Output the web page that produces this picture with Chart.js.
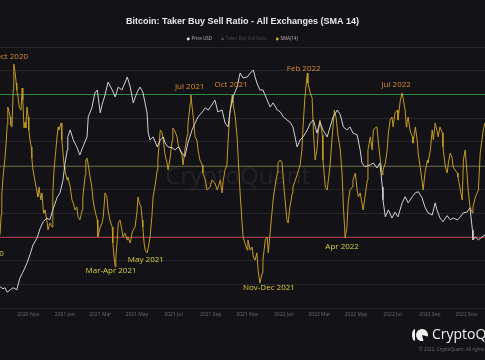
<!DOCTYPE html>
<html>
<head>
<meta charset="utf-8">
<title>Bitcoin: Taker Buy Sell Ratio - All Exchanges (SMA 14)</title>
<script src="https://cdn.jsdelivr.net/npm/chart.js@4.4.0/dist/chart.umd.min.js"></script>
<style>
  html, body { margin: 0; padding: 0; background: #131317; }
  #wrap { position: relative; width: 485px; height: 360px; }
</style>
</head>
<body>
<div id="wrap"><canvas id="ratio-chart"></canvas></div>
<script>
// x values are day offsets from 2020-09-15 (left edge of the visible window)
const monthDays = [47, 108, 167, 228, 289, 351, 412, 473, 532, 593, 654, 716, 777];
const monthLabels = ['2020 Nov', '2021 Jan', '2021 Mar', '2021 May', '2021 Jul', '2021 Sep', '2021 Nov',
                     '2022 Jan', '2022 Mar', '2022 May', '2022 Jul', '2022 Sep', '2022 Nov'];

// BTC price (USD), log scale
const priceDay = [
  0, 5, 8, 12, 17, 22, 28, 33, 38, 45,
  50, 55, 62, 67, 72, 78, 83, 88, 95, 100,
  105, 108, 112, 113, 117, 122, 128, 133, 138, 145,
  147, 153, 158, 162, 167, 170, 175, 180, 187, 192,
  197, 203, 208, 212, 217, 222, 228, 233, 238, 245,
  247, 250, 255, 262, 267, 272, 275, 280, 287, 292,
  297, 303, 308, 313, 320, 325, 330, 337, 342, 347,
  353, 358, 363, 370, 375, 380, 383, 388, 395, 400,
  405, 412, 417, 422, 425, 428, 433, 438, 445, 450,
  455, 462, 467, 472, 478, 483, 488, 495, 500, 505,
  512, 517, 522, 528, 533, 538, 545, 550, 555, 562,
  567, 572, 578, 583, 588, 595, 600, 603, 608, 617,
  622, 628, 633, 637, 638, 642, 647, 653, 658, 663,
  670, 675, 680, 687, 692, 697, 703, 708, 713, 720,
  725, 728, 733, 738, 745, 750, 755, 762, 767, 772,
  778, 783, 787, 788, 792, 797, 803, 808
];
const priceUsd = [
  10700, 10500, 10600, 10200, 10400, 10600, 10400, 11500, 12100, 13100,
  14100, 15300, 16300, 17700, 18700, 19300, 19000, 20700, 23000, 24000,
  26800, 30500, 34700, 38800, 41200, 37800, 35600, 33200, 35600, 38800,
  46100, 49800, 56600, 58100, 47700, 51100, 55700, 62200, 58100, 54700,
  59600, 58100, 61700, 65000, 59600, 52000, 56600, 59600, 57100, 47700,
  40100, 37800, 38800, 35600, 37800, 38800, 36800, 35600, 35300, 34700,
  35600, 33800, 32700, 36800, 41200, 43700, 46100, 48100, 49800, 48900,
  51100, 53300, 48100, 48900, 43700, 42300, 48100, 54700, 59600, 67200,
  64400, 65000, 67200, 69000, 65000, 61700, 58100, 58100, 53300, 50200,
  52000, 48900, 48100, 46100, 44900, 44100, 42300, 35600, 37800, 38800,
  41200, 43700, 44900, 40100, 44100, 41200, 38800, 42300, 46100, 48900,
  46900, 42300, 41200, 42300, 40100, 39500, 34700, 31000, 30000, 30500,
  31000, 29700, 31000, 25200, 22600, 19500, 20700, 19300, 20300, 19500,
  22000, 23200, 22000, 23200, 24000, 24200, 23000, 21200, 20200, 19800,
  22000, 20700, 19300, 18700, 19700, 19000, 19300, 19000, 19500, 20200,
  20300, 21100, 17400, 16000, 16400, 16000, 16400, 16700
];

// Taker buy/sell ratio, SMA(14)
const smaDay = [
  0, 2, 3, 5, 8, 10, 12, 13, 17, 18,
  20, 22, 23, 25, 27, 28, 30, 32, 35, 37,
  38, 40, 42, 43, 45, 47, 48, 50, 52, 53,
  55, 58, 62, 63, 65, 68, 70, 72, 73, 75,
  78, 80, 83, 87, 88, 90, 92, 95, 97, 98,
  102, 103, 105, 107, 108, 112, 113, 117, 120, 122,
  125, 128, 130, 133, 137, 138, 142, 143, 145, 147,
  150, 153, 155, 158, 162, 163, 167, 170, 172, 175,
  178, 180, 183, 187, 188, 190, 192, 193, 195, 197,
  200, 203, 205, 208, 212, 213, 217, 220, 222, 225,
  228, 230, 232, 235, 237, 238, 240, 242, 245, 247,
  250, 253, 255, 258, 262, 263, 267, 270, 272, 275,
  278, 280, 283, 287, 288, 292, 295, 297, 300, 303,
  305, 308, 312, 313, 317, 318, 320, 322, 325, 328,
  330, 333, 337, 338, 342, 345, 350, 353, 358, 362,
  367, 370, 372, 375, 378, 380, 383, 387, 388, 392,
  395, 397, 400, 403, 405, 408, 412, 413, 417, 420,
  422, 425, 428, 430, 433, 437, 438, 442, 445, 447,
  450, 453, 455, 458, 462, 463, 467, 470, 472, 475,
  478, 480, 483, 487, 488, 492, 495, 500, 503, 505,
  508, 512, 513, 517, 520, 522, 525, 528, 530, 533,
  537, 538, 542, 545, 547, 550, 553, 557, 560, 563,
  567, 570, 572, 575, 578, 580, 583, 587, 588, 592,
  595, 597, 600, 603, 605, 608, 612, 613, 617, 620,
  622, 625, 628, 630, 633, 637, 638, 642, 645, 647,
  650, 653, 655, 658, 662, 663, 667, 670, 672, 675,
  677, 678, 680, 683, 687, 688, 692, 695, 697, 700,
  703, 705, 708, 712, 713, 717, 720, 722, 725, 728,
  730, 733, 737, 738, 742, 745, 747, 750, 753, 755,
  758, 762, 763, 767, 770, 772, 775, 778, 780, 783,
  787, 788, 792, 795, 797, 800, 803, 805, 808
];
const smaRatio = [
  0.9708, 0.9792, 0.9876, 0.9952, 1.0024, 1.0087, 1.0171, 1.0247, 1.0205, 1.0171,
  1.0163, 1.0319, 1.0428, 1.0395, 1.0348, 1.0319, 1.0289, 1.0247, 1.0234, 1.0327,
  1.0277, 1.0159, 1.0184, 1.0159, 1.0247, 1.0205, 1.0150, 1.0108, 1.0079, 1.0032,
  0.9982, 0.9939, 0.9885, 0.9868, 0.9910, 0.9855, 0.9885, 0.9813, 0.9800, 0.9813,
  0.9771, 0.9729, 0.9758, 0.9741, 0.9885, 0.9982, 1.0036, 1.0121, 1.0163, 1.0150,
  1.0180, 1.0108, 1.0053, 0.9994, 0.9982, 0.9939, 0.9952, 0.9910, 0.9855, 0.9843,
  0.9813, 0.9826, 0.9784, 0.9771, 0.9813, 0.9868, 0.9961, 1.0024, 1.0032, 1.0003,
  0.9952, 0.9910, 0.9855, 0.9813, 0.9771, 0.9699, 0.9741, 0.9758, 0.9784, 0.9885,
  0.9868, 0.9813, 0.9771, 0.9741, 0.9674, 0.9615, 0.9573, 0.9615, 0.9674, 0.9758,
  0.9771, 0.9729, 0.9699, 0.9716, 0.9687, 0.9699, 0.9674, 0.9716, 0.9729, 0.9741,
  0.9800, 0.9868, 0.9843, 0.9826, 0.9771, 0.9741, 0.9674, 0.9644, 0.9632, 0.9653,
  0.9699, 0.9784, 0.9868, 0.9910, 0.9982, 1.0024, 1.0150, 1.0138, 1.0108, 1.0045,
  1.0015, 0.9982, 1.0024, 1.0108, 1.0159, 1.0142, 1.0121, 1.0087, 1.0066, 1.0045,
  1.0003, 1.0066, 1.0129, 1.0171, 1.0264, 1.0298, 1.0247, 1.0205, 1.0121, 1.0108,
  1.0066, 1.0024, 1.0003, 0.9969, 0.9939, 0.9897, 0.9910, 0.9939, 0.9927, 0.9897,
  0.9939, 0.9885, 0.9939, 0.9982, 1.0003, 1.0108, 1.0222, 1.0298, 1.0264, 1.0205,
  1.0121, 1.0024, 0.9885, 0.9771, 0.9699, 0.9674, 0.9644, 0.9687, 0.9644, 0.9657,
  0.9615, 0.9602, 0.9632, 0.9560, 0.9505, 0.9548, 0.9602, 0.9687, 0.9699, 0.9632,
  0.9716, 0.9800, 0.9855, 0.9910, 0.9969, 1.0011, 1.0024, 1.0011, 0.9939, 0.9855,
  0.9771, 0.9758, 0.9826, 0.9885, 0.9910, 0.9939, 0.9961, 1.0003, 1.0066, 1.0171,
  1.0289, 1.0390, 1.0348, 1.0306, 1.0285, 1.0150, 1.0024, 1.0066, 1.0138, 1.0192,
  1.0129, 1.0024, 0.9910, 0.9897, 0.9939, 1.0003, 1.0108, 1.0234, 1.0201, 1.0129,
  1.0066, 0.9961, 0.9834, 0.9695, 0.9741, 0.9843, 0.9897, 0.9910, 0.9939, 0.9969,
  0.9897, 0.9868, 0.9885, 0.9843, 0.9813, 0.9868, 0.9939, 1.0066, 1.0121, 1.0066,
  1.0150, 1.0159, 1.0163, 1.0108, 1.0036, 0.9961, 0.9982, 1.0011, 1.0066, 1.0138,
  1.0192, 1.0205, 1.0163, 1.0222, 1.0234, 1.0192, 1.0277, 1.0306, 1.0277, 1.0234,
  1.0163, 1.0180, 1.0205, 1.0150, 1.0121, 1.0095, 1.0163, 1.0108, 1.0045, 0.9994,
  0.9939, 0.9897, 0.9969, 1.0024, 1.0011, 1.0066, 1.0150, 1.0108, 1.0180, 1.0150,
  1.0121, 1.0163, 1.0138, 1.0079, 0.9994, 0.9969, 1.0011, 1.0053, 1.0036, 0.9994,
  0.9982, 0.9969, 0.9952, 0.9897, 0.9855, 1.0024, 1.0066, 0.9969, 0.9897, 0.9826,
  0.9800, 0.9826, 0.9868, 0.9885, 0.9897, 1.0053, 1.0108, 1.0150, 1.0180
];

// Highlighted turning points
const noteText = ['Sep 2020', 'Oct 2020', 'Mar-Apr 2021', 'May 2021', 'Jul 2021',
                  'Oct 2021', 'Nov-Dec 2021', 'Feb 2022', 'Apr 2022', 'Jul 2022'];
const noteDay = [-22, 19, 185, 243, 316, 385, 448, 506, 570, 660];
const noteRatio = [0.9628, 1.0460, 0.9556, 0.9602, 1.0331, 1.0342, 0.9484, 1.0409, 0.9659, 1.0342];
const noteKind = ['low', 'high', 'low', 'low', 'high', 'high', 'low', 'high', 'low', 'high'];

// Reference levels on the ratio axis
const levelRatio = [1.03, 1.00, 0.97];

const levelColors = ['#2a8a3c', '#5c5b2e', '#a8303e'];
const noteColors = { high: '#dc8a36', low: '#d6cf3b' };
const gridColor = '#26262c';

Chart.defaults.font.family = '"Open Sans", "Liberation Sans", sans-serif';

const overlayPlugin = {
    id: 'overlay',
    beforeDatasetsDraw(chart) {
        const { ctx, chartArea, scales } = chart;
        ctx.save();
        // reference levels
        ctx.lineWidth = 1;
        levelRatio.forEach((v, i) => {
            const y = Math.round(scales.y.getPixelForValue(v)) + 0.5;
            ctx.strokeStyle = levelColors[i];
            ctx.beginPath();
            ctx.moveTo(chartArea.left, y);
            ctx.lineTo(chartArea.right, y);
            ctx.stroke();
        });
        // faint watermark
        ctx.fillStyle = 'rgba(255, 255, 255, 0.07)';
        ctx.font = '24px "Open Sans", sans-serif';
        ctx.textAlign = 'center';
        ctx.textBaseline = 'middle';
        ctx.fillText('CryptoQuant', chartArea.left + chartArea.width * 0.49, chartArea.top + chartArea.height * 0.5);
        ctx.restore();
    },
    afterDatasetsDraw(chart) {
        const { ctx, scales } = chart;
        ctx.save();
        ctx.font = '8px "Open Sans", sans-serif';
        ctx.textAlign = 'center';
        ctx.textBaseline = 'middle';
        noteText.forEach((text, i) => {
            ctx.fillStyle = noteColors[noteKind[i]];
            ctx.fillText(text, scales.x.getPixelForValue(noteDay[i]), scales.y.getPixelForValue(noteRatio[i]));
        });
        ctx.restore();
    },
    afterDraw(chart) {
        // CryptoQuant logo, bottom right
        const { ctx } = chart;
        ctx.save();
        ctx.fillStyle = '#f0f0f0';
        ctx.beginPath();
        ctx.ellipse(415, 335, 3, 6, 0, Math.PI * 0.5, Math.PI * 1.5);
        ctx.closePath();
        ctx.fill();
        ctx.beginPath();
        ctx.moveTo(422, 335);
        ctx.arc(422, 335, 6, Math.PI * 0.42, Math.PI * 2.08);
        ctx.closePath();
        ctx.fill();
        ctx.font = '14px "Open Sans", sans-serif';
        ctx.textAlign = 'left';
        ctx.textBaseline = 'middle';
        ctx.fillText('CryptoQuant', 432, 335);
        ctx.fillStyle = '#6c6c72';
        ctx.font = '4.5px "Open Sans", sans-serif';
        ctx.fillText('\u00a9 2022. CryptoQuant. All rights reserved', 419, 349.5);
        ctx.restore();
    }
};

const legendDot = ['#e8e8e8', '#4a4a50', '#d4a62a'];
const legendText = ['#b8b8bc', '#4a4a50', '#b8b8bc'];

const ratioChart = new Chart('ratio-chart', {
    type: 'line',
    data: {
        datasets: [
            {
                label: 'Price USD',
                data: priceDay.map((d, i) => ({ x: d, y: priceUsd[i] })),
                yAxisID: 'yPrice',
                borderColor: '#d2d2d6',
                borderWidth: 1,
                pointRadius: 0,
                tension: 0
            },
            {
                label: 'Taker Buy Sell Ratio',
                data: [],
                yAxisID: 'y',
                borderColor: '#4a4a50',
                borderWidth: 1,
                pointRadius: 0
            },
            {
                label: 'SMA(14)',
                data: smaDay.map((d, i) => ({ x: d, y: smaRatio[i] })),
                yAxisID: 'y',
                borderColor: '#c49a22',
                borderWidth: 1,
                pointRadius: 0,
                tension: 0
            }
        ]
    },
    options: {
        responsive: true,
        maintainAspectRatio: false,
        animation: false,
        layout: { padding: { top: 0, left: 0, right: 0, bottom: 38 } },
        plugins: {
            title: {
                display: true,
                text: 'Bitcoin: Taker Buy Sell Ratio - All Exchanges (SMA 14)',
                color: '#e8e8ea',
                font: { size: 9, weight: 'bold', family: '"Liberation Sans", Arial, sans-serif' },
                padding: { top: 16.5, bottom: 0 }
            },
            legend: {
                display: true,
                maxHeight: 19.7,
                labels: {
                    font: { size: 4.5 },
                    padding: 9.45,
                    usePointStyle: true,
                    boxWidth: 2,
                    boxHeight: 2,
                    generateLabels: chart => chart.data.datasets.map((ds, i) => ({
                        text: ds.label,
                        fillStyle: legendDot[i],
                        strokeStyle: legendDot[i],
                        fontColor: legendText[i],
                        lineWidth: 0,
                        pointStyle: 'circle',
                        hidden: false,
                        datasetIndex: i
                    }))
                }
            },
            tooltip: { enabled: false }
        },
        scales: {
            x: {
                type: 'linear',
                min: 0,
                max: 808,
                grid: { display: false, drawTicks: false },
                border: { display: false },
                afterBuildTicks: scale => { scale.ticks = monthDays.map(v => ({ value: v })); },
                ticks: {
                    color: '#6a6a70',
                    font: { size: 5 },
                    padding: 4,
                    maxRotation: 0,
                    autoSkip: false,
                    callback: value => monthLabels[monthDays.indexOf(value)]
                }
            },
            y: {
                type: 'linear',
                position: 'left',
                min: 0.94,
                max: 1.05,
                border: { display: false },
                ticks: { display: false, stepSize: 0.01 },
                grid: { drawTicks: false, lineWidth: 1, color: gridColor }
            },
            yPrice: {
                type: 'logarithmic',
                display: false,
                min: 8900,
                max: 84100
            }
        }
    },
    plugins: [overlayPlugin]
});
</script>
</body>
</html>
